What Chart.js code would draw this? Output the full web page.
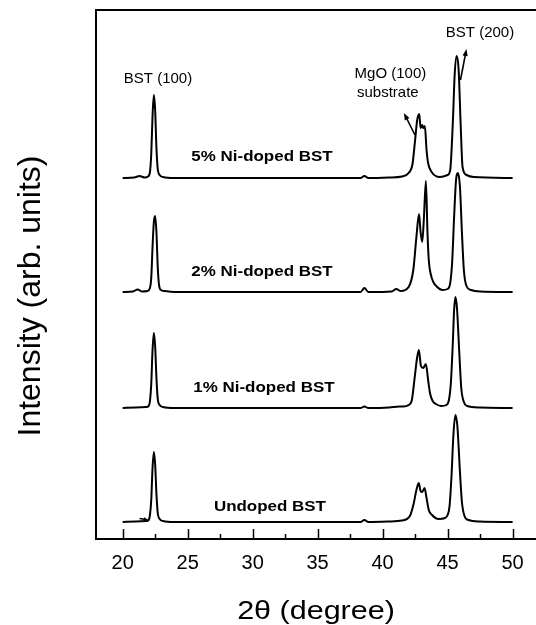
<!DOCTYPE html>
<html>
<head>
<meta charset="utf-8">
<script src="https://cdn.jsdelivr.net/npm/chart.js@4.4.1/dist/chart.umd.min.js"></script>
<style>
  html, body { margin: 0; padding: 0; background: #fff; }
  #wrap { width: 536px; height: 625px; }
</style>
</head>
<body>
<div id="wrap"><canvas id="xrdChart" width="536" height="625"></canvas></div>
<script>
// XRD patterns of BST films on MgO(100), stacked bottom to top
const sampleNames = ['Undoped BST', '1% Ni-doped BST', '2% Ni-doped BST', '5% Ni-doped BST'];
const stackOffsets = [17, 131, 247, 361];

const undopedTheta = [20, 21.0, 21.8, 22.0, 22.1, 22.2, 22.3, 22.4, 22.5, 22.6, 22.7, 22.85, 23.1, 24.0,
  38.3, 38.6, 38.9, 40.5, 41.5, 42.1, 42.4, 42.6, 42.78, 42.92, 43.05, 43.22, 43.38, 43.55, 43.8, 44.3,
  44.8, 45.0, 45.15, 45.3, 45.45, 45.6, 45.75, 45.95, 46.1, 46.3, 46.6, 47.5, 50];
const undopedIntensity = [0, 0.5, 1, 2, 7, 22, 54, 70, 58, 28, 9, 3, 1, 0,
  0, 2, 0, 0.5, 1.5, 6, 19, 32, 39, 31, 30, 34, 24, 12, 7, 3,
  4, 7, 16, 46, 88, 107, 96, 50, 20, 6, 2, 0.5, 0];

const ni1Theta = [20, 21.0, 21.8, 22.0, 22.1, 22.2, 22.3, 22.4, 22.5, 22.6, 22.7, 22.85, 23.1, 24.0,
  38.3, 38.6, 38.9, 40.5, 41.3, 41.6, 42.0, 42.25, 42.48, 42.65, 42.79, 42.95, 43.12, 43.33, 43.5, 43.66,
  43.85, 44.1, 44.5, 44.9, 45.1, 45.25, 45.4, 45.5, 45.6, 45.72, 45.9, 46.05, 46.25, 46.5, 47.5, 50];
const ni1Intensity = [0, 0.5, 1, 2, 7, 24, 58, 75, 62, 30, 9, 3, 1, 0,
  0, 1.5, 0, 0.5, 1.5, 1.5, 3, 8, 32, 50, 58, 42, 40, 44, 28, 14,
  7, 4, 2, 3, 8, 25, 65, 98, 111, 100, 55, 20, 6, 2, 0.5, 0];

const ni2Theta = [20, 20.8, 21.15, 21.5, 21.9, 22.1, 22.2, 22.3, 22.4, 22.5, 22.6, 22.7, 22.8, 22.95, 23.2, 24.0,
  38.3, 38.6, 38.9, 40.7, 41.05, 41.4, 42.0, 42.36, 42.6, 42.8, 42.92, 43.05, 43.18, 43.33, 43.45, 43.55,
  43.7, 43.9, 44.2, 44.6, 45.0, 45.2, 45.35, 45.5, 45.65, 45.8, 45.95, 46.1, 46.25, 46.45, 46.8, 47.5, 50];
const ni2Intensity = [0, 0.5, 2.5, 0.5, 1, 4, 14, 45, 70, 76, 60, 25, 7, 2, 1, 0,
  0, 4, 0, 0.5, 3, 1, 5, 22, 55, 78, 60, 50, 75, 111, 60, 32,
  18, 10, 5, 2, 3, 9, 30, 75, 112, 119, 105, 60, 22, 6, 2, 0.5, 0];

const ni5Theta = [20, 20.9, 21.3, 21.7, 21.95, 22.1, 22.2, 22.3, 22.4, 22.5, 22.6, 22.7, 22.85, 23.1, 24.0,
  38.3, 38.6, 38.9, 40.5, 41.5, 42.0, 42.3, 42.5, 42.66, 42.82, 42.92, 43.05, 43.12, 43.25, 43.38, 43.5,
  43.77, 44.4, 45.0, 45.2, 45.4, 45.55, 45.7, 45.85, 46.0, 46.15, 46.46, 47.0, 50];
const ni5Intensity = [0, 0.5, 2, 0.5, 1.5, 6, 24, 62, 83, 68, 30, 9, 3, 1, 0,
  0, 2, 0, 0.5, 1.5, 5, 14, 38, 58, 64, 50, 53, 50, 52, 28, 15,
  6, 1, 3, 8, 55, 105, 122, 108, 55, 11, 3, 1, 0];

const xMajorTicks = [20, 25, 30, 35, 40, 45, 50];
const xMinorTicks = [22.5, 27.5, 32.5, 37.5, 42.5, 47.5];

const thetaSets = [undopedTheta, ni1Theta, ni2Theta, ni5Theta];
const intensitySets = [undopedIntensity, ni1Intensity, ni2Intensity, ni5Intensity];

const datasets = sampleNames.map((name, i) => ({
  label: name,
  data: thetaSets[i].map((t, k) => ({ x: t, y: intensitySets[i][k] + stackOffsets[i] })),
  borderColor: '#000',
  borderWidth: 2,
  pointRadius: 0,
  fill: false,
  cubicInterpolationMode: 'monotone'
}));

function drawText(ctx, text, px, py, font, stretch, baseline) {
  ctx.save();
  ctx.translate(px, py);
  ctx.scale(stretch, 1);
  ctx.font = font;
  ctx.textAlign = 'center';
  ctx.textBaseline = baseline || 'middle';
  ctx.fillText(text, 0, 0);
  ctx.restore();
}

function drawArrow(ctx, x0, y0, x1, y1, len, half) {
  const ang = Math.atan2(y1 - y0, x1 - x0);
  len = len || 7;
  half = half || 2.6;
  ctx.beginPath();
  ctx.moveTo(x0, y0);
  ctx.lineTo(x1 - Math.cos(ang) * len * 0.6, y1 - Math.sin(ang) * len * 0.6);
  ctx.stroke();
  ctx.beginPath();
  ctx.moveTo(x1, y1);
  ctx.lineTo(x1 - Math.cos(ang) * len - Math.sin(ang) * half, y1 - Math.sin(ang) * len + Math.cos(ang) * half);
  ctx.lineTo(x1 - Math.cos(ang) * len + Math.sin(ang) * half, y1 - Math.sin(ang) * len - Math.cos(ang) * half);
  ctx.closePath();
  ctx.fill();
}

// frame top edge, inward ticks, peak notes and axis titles
const decorations = {
  id: 'decorations',
  afterDraw(chart) {
    const { ctx, chartArea, scales: { x, y } } = chart;
    ctx.save();
    ctx.strokeStyle = '#000';
    ctx.fillStyle = '#000';

    ctx.lineWidth = 2;
    ctx.beginPath();
    ctx.moveTo(chartArea.left - 1, chartArea.top);
    ctx.lineTo(chartArea.right, chartArea.top);
    ctx.stroke();

    ctx.lineWidth = 1.5;
    xMajorTicks.forEach(v => {
      const px = Math.round(x.getPixelForValue(v)) + 0.5;
      ctx.beginPath();
      ctx.moveTo(px, chartArea.bottom);
      ctx.lineTo(px, chartArea.bottom - 10);
      ctx.stroke();
    });
    xMinorTicks.forEach(v => {
      const px = Math.round(x.getPixelForValue(v)) + 0.5;
      ctx.beginPath();
      ctx.moveTo(px, chartArea.bottom);
      ctx.lineTo(px, chartArea.bottom - 5);
      ctx.stroke();
    });

    // sample names
    const nameSpots = [[31.33, 32], [30.87, 151], [30.72, 267], [30.72, 382]];
    sampleNames.forEach((name, i) => {
      drawText(ctx, name, x.getPixelForValue(nameSpots[i][0]), y.getPixelForValue(nameSpots[i][1]),
        'bold 15px "Liberation Sans", Arial, sans-serif', 1.13);
    });

    // reflections
    const noteFont = '15px "Liberation Sans", Arial, sans-serif';
    drawText(ctx, 'BST (100)', x.getPixelForValue(22.72), y.getPixelForValue(460), noteFont, 1);
    drawText(ctx, 'MgO (100)', x.getPixelForValue(40.6), y.getPixelForValue(465), noteFont, 1);
    drawText(ctx, 'substrate', x.getPixelForValue(40.4), y.getPixelForValue(446), noteFont, 1);
    drawText(ctx, 'BST (200)', x.getPixelForValue(47.49), y.getPixelForValue(506), noteFont, 1);

    ctx.lineWidth = 1.6;
    drawArrow(ctx, x.getPixelForValue(42.49), y.getPixelForValue(404), x.getPixelForValue(41.64), y.getPixelForValue(426));
    drawArrow(ctx, x.getPixelForValue(45.99), y.getPixelForValue(459), x.getPixelForValue(46.45), y.getPixelForValue(490));
    // small marker on the undoped trace
    ctx.lineWidth = 1.3;
    drawArrow(ctx, x.getPixelForValue(21.3), y.getPixelForValue(20.5), x.getPixelForValue(22.0), y.getPixelForValue(19), 5, 2);

    // axis titles
    const midX = (chartArea.left + chartArea.right) / 2;
    drawText(ctx, '2θ (degree)', midX, 619, '25px "Liberation Sans", Arial, sans-serif', 1.22, 'alphabetic');
    ctx.save();
    ctx.translate(40, 296);
    ctx.rotate(-Math.PI / 2);
    ctx.font = '32px "Liberation Sans", Arial, sans-serif';
    ctx.textAlign = 'center';
    ctx.textBaseline = 'alphabetic';
    ctx.fillText('Intensity (arb. units)', 0, 0);
    ctx.restore();

    ctx.restore();
  }
};

Chart.defaults.font.family = '"Liberation Sans", Arial, sans-serif';
Chart.defaults.color = '#000';

new Chart(document.getElementById('xrdChart'), {
  type: 'line',
  data: { datasets },
  options: {
    responsive: false,
    animation: false,
    devicePixelRatio: 1,
    layout: { padding: { top: 10, left: 0, right: 0, bottom: 0 } },
    plugins: {
      legend: { display: false },
      tooltip: { enabled: false }
    },
    scales: {
      x: {
        type: 'linear',
        min: 17.95,
        max: 51.8,
        afterFit: scale => { scale.height = 86; },
        afterBuildTicks: axis => { axis.ticks = xMajorTicks.map(v => ({ value: v })); },
        grid: { display: false, drawTicks: false },
        border: { display: true, color: '#000', width: 2 },
        ticks: { font: { size: 20 }, padding: 12, maxRotation: 0, autoSkip: false }
      },
      y: {
        min: 0,
        max: 529,
        afterFit: scale => { scale.width = 96; },
        grid: { display: false, drawTicks: false },
        border: { display: true, color: '#000', width: 2 },
        ticks: { display: false }
      }
    }
  },
  plugins: [decorations]
});
</script>
</body>
</html>
